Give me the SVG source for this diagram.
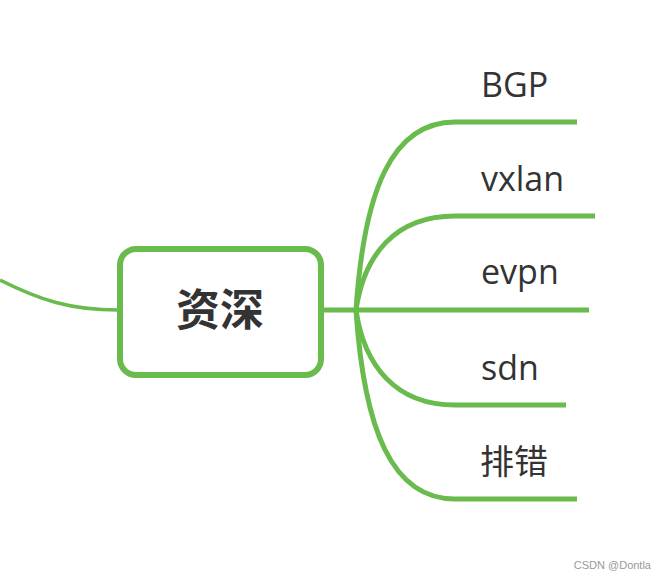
<svg xmlns="http://www.w3.org/2000/svg" width="663" height="581" viewBox="0 0 663 581">
<style>
.c{fill:none;stroke:#68bb4c;stroke-linecap:butt}
.b{stroke-width:5}
.t{font-family:"Open Sans","Noto Sans","Noto Sans CJK SC",sans-serif;font-size:34px;fill:#333}
</style>
<rect width="663" height="581" fill="#fff"/>
<g id="connectors">
<path class="c" stroke-width="3.5" d="M0,280 C40,300 70,310 118,310"/>
<path class="c b" d="M322,310 L356,310"/>
<path class="c b" d="M356,310 C364,190 392,122 455,122 L577,122"/>
<path class="c b" d="M356,310 C364,255 395,216 455,216 L595,216"/>
<path class="c b" d="M356,310 L589,310"/>
<path class="c b" d="M356,310 C364,365 395,405 455,405 L566,405"/>
<path class="c b" d="M356,310 C364,430 392,499 455,499 L577,499"/>
</g>
<g id="root">
<rect x="120" y="249" width="201" height="126" rx="16" fill="#fff" stroke="#68bb4c" stroke-width="6"/>
<text x="220" y="326" text-anchor="middle" font-family="'Noto Sans CJK SC',sans-serif" font-weight="bold" font-size="44" fill="#333">资深</text>
</g>
<g id="n-bgp"><text class="t" x="481" y="97">BGP</text></g>
<g id="n-vxlan"><text class="t" x="481" y="191">vxlan</text></g>
<g id="n-evpn"><text class="t" x="481" y="284">evpn</text></g>
<g id="n-sdn"><text class="t" x="481" y="380">sdn</text></g>
<g id="n-pc"><text class="t" x="480" y="474">排错</text></g>
<text x="651" y="569" text-anchor="end" font-family="'Liberation Sans',sans-serif" font-size="11" fill="#999">CSDN @Dontla</text>
</svg>
